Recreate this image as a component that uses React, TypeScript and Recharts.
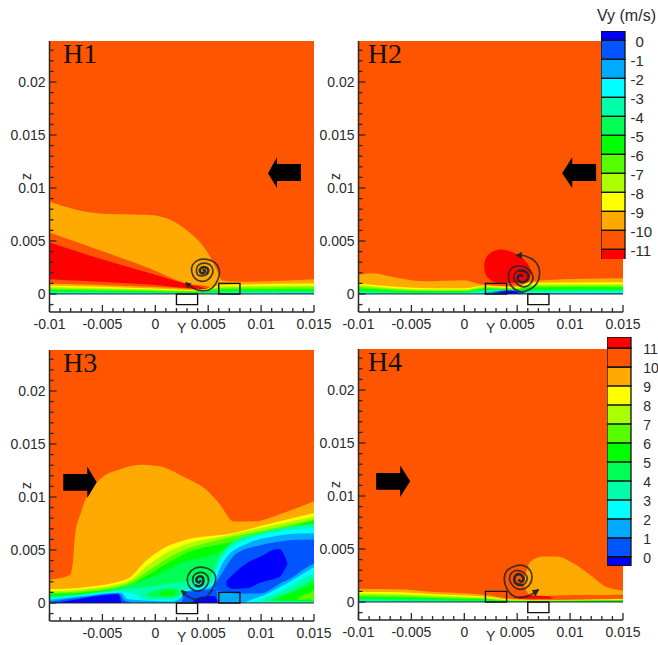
import React from "react";
import { ComposedChart, BarChart, Bar, Area, Line, XAxis, YAxis, ReferenceArea, ReferenceLine } from "recharts";

const RED = "#ff0000", ORANGE = "#ff5500", AMBER = "#ffaa00", YELLOW = "#ffff00", LIME = "#aaff00", GRASS = "#55ff00",
  GREEN = "#00ff00", SPRING = "#00ff55", TEAL = "#00ffaa", CYAN = "#00ffff", SKY = "#00aaff", BLUE = "#0055ff", DEEP = "#0000ff";

// All band rows: [Y mm, top mm] (from the wall) or [Y mm, low mm, high mm]
const h1Amber = [[-10,8.7],[-5.3,7.6],[-2,7.5],[-0.5,7.45],[1.4,7],[3,6],[4.2,4.9],[5.2,3.5],[5.8,2.3],[6.3,1.3],[8,1.15],[15,1.4]];
const h1Wedge = [[-10,5.8],[-5.3,4.15],[-0.5,2.4],[2.95,1],[5,0.7],[5.3,0]];
const h1Red = [[-10,4.85],[-5.3,3.35],[-0.5,1.95],[2.8,1],[4.5,0.6],[5,0.4],[5.1,0]];
const h1Under = [[-10,1.4],[-5.3,1.15],[0,0.85],[3,0.55],[5,0.45],[5.2,0]];
const h1Amber2 = [[-10,1],[-5,0.85],[0,0.65],[3,0.5],[4.5,0.45],[5.5,0.7],[6.3,1.05],[8,1.1],[15,1.25]];
const h1Yellow = [[-10,0.8],[0,0.52],[4,0.35],[6.5,0.85],[15,0.98]];
const h1Lime = [[-10,0.66],[0,0.42],[4,0.3],[6.5,0.72],[15,0.8]];
const h1Grass = [[-10,0.52],[0,0.34],[4,0.25],[6.5,0.58],[15,0.63]];
const h1Green = [[-10,0.4],[0,0.26],[4,0.2],[6.5,0.42],[15,0.44]];
const h1Spring = [[-10,0.28],[0,0.18],[4,0.14],[6.5,0.3],[15,0.31]];
const h1Teal = [[-10,0.18],[0,0.12],[4,0.09],[6.5,0.18],[15,0.19]];
const h1Cyan = [[-10,0.08],[0,0.06],[4,0.05],[6.5,0.08],[15,0.09]];
const h1Sky = [[11.5,0],[12,0.07],[15,0.08]];
const h1Spiral = [[2.9,1.07],[3.6,0.53],[4.38,0.31],[5.33,0.53],[5.96,1.48],[6.05,2.26],[5.64,2.96],[4.86,3.27],[4.07,3.21],[3.53,2.74],[3.44,2.11],[3.75,1.48],[4.38,1.19],[5.01,1.38],[5.42,1.95],[5.33,2.58],[4.86,2.89],[4.23,2.83],[3.91,2.42],[3.97,1.86],[4.38,1.7],[4.86,1.86],[5.01,2.26],[4.7,2.52],[4.29,2.42],[4.23,2.11],[4.48,1.95],[4.7,2.17],[4.48,2.26]];
const h1Head = [[2.81,1.1,1.1],[3.03,0.53,1.06],[3.44,1,1]];
const h1Arrow = [[10.65,11.4,11.4],[11.5,10,12.9],[11.5,10.66,12.26],[13.77,10.66,12.26]];

const h2Red = [[1.88,2.3,2.9],[2,1.9,3.3],[2.45,1.35,3.85],[3.4,1.05,4.2],[4.65,1.05,3.9],[5.5,1.1,3.4],[6.07,1.4,2.7],[6.3,1.9,2.2]];
const h2Amber = [[-10,1.8],[-8.6,1.95],[-7,1.65],[-3.85,1.2],[0,1.3],[1.2,1],[2.1,0.85],[3.5,0.75],[5,0.8],[6,1.1],[7.5,1.3],[15,1.48]];
const h2Yellow = [[-10,1],[-3,0.55],[0,0.55],[2,0.8],[3.5,0.7],[5,0.65],[6.2,1.05],[15,1.1]];
const h2Lime = [[-10,0.85],[-3,0.42],[0,0.42],[2,0.72],[3.5,0.62],[5,0.58],[6.2,0.9],[15,0.94]];
const h2Grass = [[-10,0.68],[-3,0.33],[0,0.33],[2,0.62],[3.5,0.55],[5,0.5],[6.2,0.75],[15,0.78]];
const h2Green = [[-10,0.52],[-3,0.25],[0,0.25],[2,0.52],[3.5,0.48],[5,0.42],[6.2,0.6],[15,0.63]];
const h2Spring = [[-10,0.36],[-3,0.18],[0,0.18],[2,0.42],[3.5,0.42],[5,0.35],[6.2,0.42],[15,0.45]];
const h2Teal = [[-10,0.22],[-3,0.1],[0,0.12],[2,0.32],[3.5,0.36],[5,0.3],[6.2,0.28],[15,0.3]];
const h2Cyan = [[-10,0.1],[-3,0.05],[0,0.06],[2,0.22],[3.5,0.3],[5,0.26],[6.2,0.16],[15,0.2]];
const h2Sky = [[1.5,0],[2.4,0.22],[3.5,0.3],[5,0.26],[6,0.1],[7,0.08],[15,0.1]];
const h2Blue = [[2.3,0],[3,0.2],[4,0.35],[5,0.3],[5.8,0]];
const h2Deep = [[2.8,0],[3.5,0.18],[4.5,0.3],[5.3,0]];
const h2Spiral = [[4.87,3.68],[5.76,3.58],[6.7,3.05],[7.11,2.11],[6.86,1.01],[6.07,0.38],[5.28,0.22],[4.5,0.69],[4.18,1.48],[4.34,2.26],[4.97,2.64],[5.76,2.52],[6.39,1.95],[6.39,1.16],[5.76,0.69],[5.13,0.85],[4.72,1.32],[4.72,1.8],[5.13,2.2],[5.76,2.11],[6.07,1.63],[5.76,1.16],[5.28,1.16],[5.03,1.48],[5.28,1.8],[5.54,1.63]];
const h2Head = [[4.87,3.62,3.62],[5.44,3.3,3.99]];
const h2Arrow = [[9.25,11.4,11.4],[10.2,10,12.9],[10.2,10.66,12.26],[12.46,10.66,12.26]];

const h3Amber = [[-10,2.2],[-8.06,2.64],[-7.8,3.74],[-7.6,6.25],[-7,8.6],[-5.3,11.6],[-3.4,12.6],[-1.2,13.05],[0.4,12.9],[2.9,11.8],[4.8,10.7],[6.1,9.3],[7.4,7.7],[9.25,7.7],[12.1,8.5],[15,9.6]];
const h3Yellow = [[-10,1.3],[-6.8,1.47],[-2.7,2.23],[-0.8,4.05],[0.76,5.15],[2.7,5.9],[7.4,6.6],[10.5,7.4],[15,8.5]];
const h3Lime = [[-10,1.13],[-6.8,1.3],[-2.7,2],[-0.66,3.58],[1.07,4.75],[2.7,5.47],[6.7,6.35],[10.5,7.2],[15,8.15]];
const h3Grass = [[-10,0.97],[-6.8,1.13],[-2.7,1.8],[-0.5,3.17],[1.4,4.37],[2.7,5],[6.1,6],[10.5,6.9],[15,7.9]];
const h3Green = [[-10,0.85],[-6.8,1],[-2.7,1.6],[-0.2,2.95],[1.7,4.05],[2.7,4.6],[6.7,5.65],[10.5,6.6],[15,7.75]];
const h3Spring = [[-10,0.72],[-6.8,0.9],[-3.2,1.5],[0.13,2.64],[2.7,3.9],[5,4.4],[7.4,5.35],[10.5,6.35],[15,7.57]];
const h3Teal = [[-9.95,0,0.56],[-6.8,0,0.8],[-3,0,1.3],[-0.5,0,1.55],[1.4,0,1.85],[3.6,0,2.1],[5,0,2.2],[5.8,0,3.9],[7.4,0,5.8],[9.9,0,6.6],[11.15,0.44,6.9],[12.7,1.07,7.2],[14,1.7,7.35],[15,2.3,7.45]];
const h3LensOuter = [[-0.8,0.7,0.9],[0.1,0.5,1.25],[1.4,0.55,1.4],[2.3,0.7,1.3]];
const h3LensInner = [[0.4,0.8,0.95],[1.2,0.7,1.2],[1.9,0.8,1.1]];
const h3CornerGreen = [[11.5,0.2,0.4],[13,0.2,1],[14,0.2,1.4],[15,0.2,1.9]];
const h3CornerGrass = [[13.5,0.3,0.5],[15,0.3,1.2]];
const h3WallTeal = [[9.9,0,0.2],[15,0,0.12]];
const h3WallCyan = [[8,0,0.12],[15,0,0.06]];
const h3Cyan = [[-9.95,0,0.4],[-6.8,0,0.75],[-3.3,0,1.1],[-1.76,0,0.75],[-1,0,0.3],[1.5,0,0.3],[2.3,0,0.6],[3,0,1.3],[4.5,0,1.5],[5.3,0,1.85],[5.95,0,3.6],[7.5,0,5.5],[8.63,0,5.95],[10.2,0.43,6.45],[12.1,1.2,6.8],[14,2.3,7],[15,2.8,7.04]];
const h3Sky = [[-9.95,0,0.3],[-6.8,0,0.66],[-3.3,0,1],[-2.55,0,0.35],[1.5,0,0.15],[2.3,0,0.4],[3,0,1.15],[4.5,0,1.3],[5.48,0,1.7],[6.1,0,3.27],[7.7,0,5.15],[8,0,5.3],[9.6,0.5,5.95],[10.2,0.7,6.1],[11.8,1.5,6.4],[13.7,2.6,6.55],[15,3.4,6.57]];
const h3BlueLeft = [[-9.95,0,0.15],[-6.8,0,0.55],[-3.5,0,0.9],[-2.9,0,0.25],[-2.4,0,0.05]];
const h3BlueUnder = [[2.5,0,0.1],[3,0,1.05],[4.5,0,1.2],[5.8,0,1.35],[5.9,0,0]];
const h3BlueValley = [[5.6,1.2,1.7],[6.1,1.1,2.5],[7.7,0.9,4.7],[9.9,0.9,5.45],[11.8,1.85,5.8],[13,2.45,5.94],[13.7,2.95,5.96],[15,3.74,6]];
const h3DeepLeft = [[-9.5,0,0.02],[-8.9,0,0.1],[-6.8,0,0.45],[-3.5,0,0.85],[-3.2,0,0.1]];
const h3DeepUnder = [[3.6,0,0.2],[4.5,0,0.6],[5.6,0,0.65],[5.9,0,0.1]];
const h3DeepBlob = [[6.74,1.6,2.1],[7.37,1.32,2.7],[8.63,1.38,3.74],[10,1.95,4.4],[11.47,2.35,5.06],[11.78,2.5,5.06],[12.47,3.6,3.8]];
const h3Spiral = [[2.49,1.13],[3.12,0.59],[4.06,0.34],[5.01,0.75],[5.58,1.69],[5.7,2.48],[5.32,3.05],[4.54,3.36],[3.75,3.27],[3.21,2.8],[3.02,2.17],[3.28,1.47],[3.91,1.13],[4.54,1.29],[5.01,1.91],[4.91,2.57],[4.38,2.89],[3.75,2.7],[3.53,2.17],[3.75,1.69],[4.22,1.6],[4.54,2.01],[4.38,2.48],[3.97,2.39],[3.91,2.07],[4.16,1.95],[4.28,2.17]];
const h3Head = [[2.42,1.22,1.22],[2.64,0.59,1.17],[3.02,1.07,1.07]];
const h3Arrow = [[-8.7,10.6,12.17],[-6.43,10.6,12.17],[-6.43,9.9,12.88],[-5.54,11.4,11.4]];

const h4Blob = [[5.7,1.4,2.4],[5.9,1,3],[6.24,0.7,3.8],[7.5,0.55,4.28],[8.76,0.6,4.28],[10.3,0.65,3.65],[11.9,0.65,2.55],[13.5,0.65,1.38],[15,0.7,1.07]];
const h4Red = [[5.13,0.3,0.55],[6,0.3,0.6],[8,0.3,0.55],[8.3,0.3,0.35]];
const h4Amber = [[-10,1.23],[-6.4,1.2],[-3.2,0.97],[-0.06,0.82],[2.1,0.66],[4,0.35],[5,0.25],[8,0.2],[15,0.3]];
const h4Yellow = [[-10,0.95],[-6.4,0.92],[-3.2,0.75],[0,0.62],[2.1,0.5],[4,0.25],[5,0.2],[8,0.17],[15,0.25]];
const h4Lime = [[-10,0.8],[-6.4,0.76],[-3.2,0.62],[0,0.5],[2.1,0.4],[4,0.2],[5,0.16],[8,0.15],[15,0.22]];
const h4Grass = [[-10,0.65],[-6.4,0.6],[-3.2,0.5],[0,0.4],[2.1,0.32],[4,0.15],[5,0.12],[8,0.12],[15,0.18]];
const h4Green = [[-10,0.5],[-6.4,0.45],[-3.2,0.38],[0,0.3],[2.1,0.24],[4,0.12],[5,0.09],[8,0.09],[15,0.14]];
const h4Spring = [[-10,0.35],[-6.4,0.3],[-3.2,0.26],[0,0.2],[2.1,0.16],[4,0.08],[5,0.06],[8,0.06],[15,0.1]];
const h4Teal = [[-10,0.2],[-6.4,0.18],[-3.2,0.14],[0,0.1],[2.1,0.08],[4,0.04]];
const h4Cyan = [[-10,0.1],[-6.4,0.08],[-3.2,0.06],[-1,0.03]];
const h4Spiral = [[7.02,1.19],[6.24,0.66],[5.29,0.41],[4.5,0.66],[3.93,1.45],[3.78,2.23],[4.03,2.96],[4.82,3.4],[5.61,3.43],[6.24,2.96],[6.39,2.23],[6.08,1.51],[5.29,1.19],[4.6,1.51],[4.28,2.14],[4.5,2.77],[5.13,2.96],[5.76,2.64],[5.92,2.08],[5.54,1.6],[4.97,1.7],[4.72,2.08],[4.91,2.55],[5.35,2.55],[5.61,2.14],[5.35,1.92],[5.13,2.14]];
const h4Head = [[6.39,1.13,1.13],[6.71,0.5,1.16],[7.09,1.2,1.2]];
const h4Arrow = [[-8.33,10.6,12.17],[-6.06,10.6,12.17],[-6.06,9.9,12.88],[-5.11,11.4,11.4]];

const background = [[-10, 0, 23.87], [15, 0, 23.87]];
const xTicksMm = Array.from({ length: 26 }, (_, i) => i - 10);
const zTicksMm = Array.from({ length: 25 }, (_, i) => i - 1);
const vyLabels = [0, -1, -2, -3, -4, -5, -6, -7, -8, -9, -10, -11];
const vyColors = [DEEP, BLUE, SKY, CYAN, TEAL, SPRING, GREEN, GRASS, LIME, YELLOW, AMBER, ORANGE, RED];
const vySizes = [0.49, -1, -1, -1, -1, -1, -1, -1, -1, -1, -1, -1, -0.54];
const speedLabels = [11, 10, 9, 8, 7, 6, 5, 4, 3, 2, 1, 0];
const speedColors = [DEEP, BLUE, SKY, CYAN, TEAL, SPRING, GREEN, GRASS, LIME, YELLOW, AMBER, ORANGE, RED];
const speedSizes = [-0.47, 1, 1, 1, 1, 1, 1, 1, 1, 1, 1, 1, 0.58];

const toRows = (rows: number[][]) =>
  rows.map((r) => ({ y: r[0] / 1000, z: r.length === 2 ? [0, r[1] / 1000] : [r[1] / 1000, r[2] / 1000] }));
const toLine = (rows: number[][]) => rows.map((r) => ({ y: r[0] / 1000, v: r[1] / 1000 }));

const FONT = "'Liberation Sans', Arial, sans-serif";
const INK = "#2a2a2a";

function XTick({ x, y, payload, hideFirst }: any) {
  const mm = Math.round(payload.value * 1000);
  const major = mm % 5 === 0;
  const show = major && !(hideFirst && mm === -10);
  return (
    <g>
      <line x1={x} x2={x} y1={y} y2={y - (major ? 7 : 4)} stroke={INK} strokeWidth={1.3} />
      {show && (
        <text x={x} y={y + 17} textAnchor="middle" fontSize={14} fontFamily={FONT} fill={INK}>
          {String(mm / 1000)}
        </text>
      )}
    </g>
  );
}

function ZTick({ x, y, payload }: any) {
  const mm = Math.round(payload.value * 1000);
  const major = mm % 5 === 0;
  return (
    <g>
      <line x1={x} x2={x + (major ? 7 : 4)} y1={y} y2={y} stroke={INK} strokeWidth={1.3} />
      {major && (
        <text x={x - 4} y={y + 5} textAnchor="end" fontSize={14} fontFamily={FONT} fill={INK}>
          {String(mm / 1000)}
        </text>
      )}
    </g>
  );
}

function Panel({ left, top, title, titleLeft, layers, spiral, head, arrow, boxAbove, boxBelow, hideFirst }: any) {
  return (
    <div style={{ position: "absolute", left, top, width: 340, height: 345 }}>
      <ComposedChart width={340} height={345} margin={{ top: 41, right: 26, bottom: 15, left: 0 }}>
        <XAxis
          dataKey="y"
          type="number"
          domain={[-0.01, 0.015]}
          ticks={xTicksMm.map((t) => t / 1000)}
          interval={0}
          height={18}
          tickSize={0}
          tickMargin={0}
          stroke={INK}
          strokeWidth={1.5}
          tick={(p: any) => <XTick {...p} hideFirst={hideFirst} />}
          label={{ value: "Y", position: "bottom", offset: -7, fontSize: 14, fontFamily: FONT, fill: INK }}
        />
        <YAxis
          type="number"
          domain={[-0.0017, 0.02387]}
          ticks={zTicksMm.map((t) => t / 1000)}
          interval={0}
          width={49.5}
          tickSize={0}
          tickMargin={0}
          stroke={INK}
          strokeWidth={1.5}
          tick={(p: any) => <ZTick {...p} />}
          label={{ value: "z", angle: -90, position: "insideLeft", offset: 26, fontSize: 14, fontFamily: FONT, fill: INK, textAnchor: "middle" }}
        />
        {[[ORANGE, background], ...layers].map(([color, rows]: any, i: number) => (
          <Area key={i} data={toRows(rows)} dataKey="z" type="monotone" fill={color} fillOpacity={1} stroke="none" dot={false} activeDot={false} isAnimationActive={false} />
        ))}
        <Line data={toLine(spiral)} dataKey="v" type="natural" stroke="#26262a" strokeOpacity={0.85} strokeWidth={1.7} dot={false} activeDot={false} isAnimationActive={false} />
        <Line data={toLine(spiral.slice(-8))} dataKey="v" type="natural" stroke="#26262a" strokeOpacity={0.85} strokeWidth={2.6} dot={false} activeDot={false} isAnimationActive={false} />
        <Area data={toRows(head)} dataKey="z" type="linear" fill="#26262a" fillOpacity={1} stroke="none" dot={false} activeDot={false} isAnimationActive={false} />
        <Area data={toRows(arrow)} dataKey="z" type="linear" fill="#000000" fillOpacity={1} stroke="none" dot={false} activeDot={false} isAnimationActive={false} />
        <ReferenceLine y={0} stroke="#222" strokeWidth={1} />
        <ReferenceArea x1={boxAbove / 1000} x2={(boxAbove + 2) / 1000} y1={0} y2={0.001} fill="none" stroke="#111" strokeWidth={1.4} />
        <ReferenceArea x1={boxBelow / 1000} x2={(boxBelow + 2) / 1000} y1={-0.001} y2={0} fill="none" stroke="#111" strokeWidth={1.4} />
      </ComposedChart>
      <div style={{ position: "absolute", left: titleLeft, top: 39, fontFamily: "'Liberation Serif', serif", fontSize: 28, lineHeight: "30px", color: "#111" }}>{title}</div>
    </div>
  );
}

function LegendTick({ x, y, payload, indent, dy, fontSize }: any) {
  return (
    <text x={x + (payload.value === 0 ? indent : 0)} y={y + dy} fontSize={fontSize} fontFamily={FONT} fill={INK} textAnchor="start">
      {String(payload.value)}
    </text>
  );
}

function ColorBar({ left, top, height, colors, sizes, domain, ticks, labelGap, indent, dy, width, fontSize }: any) {
  const row: any = { k: "c" };
  sizes.forEach((s: number, i: number) => (row["c" + i] = s));
  return (
    <div style={{ position: "absolute", left, top, width, height }}>
      <BarChart width={width} height={height} data={[row]} stackOffset="sign" barCategoryGap={0} margin={{ top: 0, right: 0, bottom: 0, left: 0 }}>
        <XAxis dataKey="k" hide />
        <YAxis
          orientation="right"
          type="number"
          domain={domain}
          ticks={ticks}
          interval={0}
          width={width - 23.5}
          axisLine={false}
          tickSize={0}
          tickMargin={labelGap}
          tick={(p: any) => <LegendTick {...p} indent={indent} dy={dy} fontSize={fontSize} />}
        />
        {colors.map((c: string, i: number) => (
          <Bar key={i} dataKey={"c" + i} stackId="s" fill={c} stroke="#111" strokeWidth={1.3} isAnimationActive={false} />
        ))}
      </BarChart>
    </div>
  );
}

const panel1 = [[AMBER,h1Amber],[ORANGE,h1Wedge],[RED,h1Red],[ORANGE,h1Under],[AMBER,h1Amber2],[YELLOW,h1Yellow],[LIME,h1Lime],[GRASS,h1Grass],[GREEN,h1Green],[SPRING,h1Spring],[TEAL,h1Teal],[CYAN,h1Cyan],[SKY,h1Sky]];
const panel2 = [[RED,h2Red],[AMBER,h2Amber],[YELLOW,h2Yellow],[LIME,h2Lime],[GRASS,h2Grass],[GREEN,h2Green],[SPRING,h2Spring],[TEAL,h2Teal],[CYAN,h2Cyan],[SKY,h2Sky],[BLUE,h2Blue],[DEEP,h2Deep]];
const panel3 = [[AMBER,h3Amber],[YELLOW,h3Yellow],[LIME,h3Lime],[GRASS,h3Grass],[GREEN,h3Green],[SPRING,h3Spring],[TEAL,h3Teal],[SPRING,h3LensOuter],[GREEN,h3LensInner],[GREEN,h3CornerGreen],[GRASS,h3CornerGrass],[TEAL,h3WallTeal],[CYAN,h3WallCyan],[CYAN,h3Cyan],[SKY,h3Sky],[BLUE,h3BlueLeft],[BLUE,h3BlueUnder],[BLUE,h3BlueValley],[DEEP,h3DeepLeft],[DEEP,h3DeepUnder],[DEEP,h3DeepBlob]];
const panel4 = [[AMBER,h4Blob],[RED,h4Red],[AMBER,h4Amber],[YELLOW,h4Yellow],[LIME,h4Lime],[GRASS,h4Grass],[GREEN,h4Green],[SPRING,h4Spring],[TEAL,h4Teal],[CYAN,h4Cyan]];

export default function App() {
  return (
    <div style={{ position: "absolute", left: 0, top: 0, width: 658, height: 645, background: "#fff", overflow: "hidden" }}>
      <Panel left={0} top={0} title="H1" titleLeft={63} layers={panel1} spiral={h1Spiral} head={h1Head} arrow={h1Arrow} boxAbove={6} boxBelow={2} />
      <Panel left={308.8} top={0} title="H2" titleLeft={59} layers={panel2} spiral={h2Spiral} head={h2Head} arrow={h2Arrow} boxAbove={2} boxBelow={6} />
      <Panel left={0} top={309} title="H3" titleLeft={63} layers={panel3} spiral={h3Spiral} head={h3Head} arrow={h3Arrow} boxAbove={6} boxBelow={2} hideFirst />
      <Panel left={308.8} top={308} title="H4" titleLeft={59} layers={panel4} spiral={h4Spiral} head={h4Head} arrow={h4Arrow} boxAbove={2} boxBelow={6} />
      <ColorBar left={601} top={30.7} height={228.6} width={57} colors={vyColors} sizes={vySizes} domain={[-11.54, 0.49]} ticks={vyLabels} labelGap={6} indent={5} dy={7} fontSize={15} />
      <ColorBar left={606.7} top={337.3} height={228.7} width={51} colors={speedColors} sizes={speedSizes} domain={[-0.47, 11.58]} ticks={speedLabels} labelGap={12.8} indent={0} dy={6} fontSize={14} />
      <div style={{ position: "absolute", left: 597, top: 6, fontFamily: FONT, fontSize: 16, lineHeight: "20px", color: INK, whiteSpace: "nowrap" }}>Vy (m/s)</div>
    </div>
  );
}
